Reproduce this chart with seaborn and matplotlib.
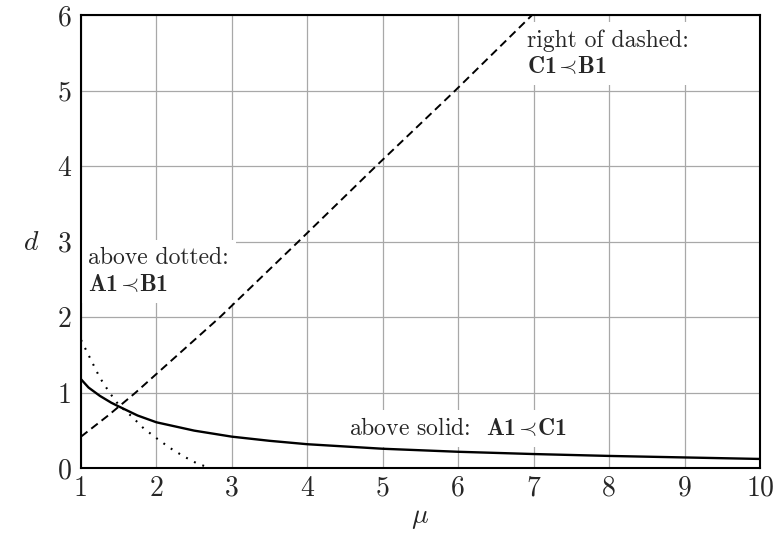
import matplotlib
matplotlib.use("Agg")
import matplotlib.pyplot as plt
import seaborn as sns
import pandas as pd

# Boundary curves in the (mu, d) plane
mu_solid = [1.0, 1.1, 1.25, 1.4, 1.5, 1.75, 2.0, 2.5, 3.0, 3.5, 4.0, 5.0, 6.0, 7.0, 8.0, 9.0, 10.0]
d_solid = [1.18, 1.07, 0.96, 0.87, 0.82, 0.70, 0.61, 0.50, 0.42, 0.365, 0.32, 0.26, 0.22, 0.19, 0.165, 0.145, 0.125]

mu_dashed = [1.0, 1.36, 1.72, 2.84, 3.88, 4.91, 5.96, 6.98]
d_dashed = [0.42, 0.70, 1.0, 2.0, 3.0, 4.0, 5.0, 6.0]

mu_dotted = [1.0, 1.25, 1.38, 1.5, 1.67, 1.83, 2.0, 2.18, 2.36, 2.53, 2.72]
d_dotted = [1.70, 1.20, 1.00, 0.84, 0.69, 0.53, 0.40, 0.27, 0.16, 0.07, 0.0]

x_ticks = [1, 2, 3, 4, 5, 6, 7, 8, 9, 10]
y_ticks = [0, 1, 2, 3, 4, 5, 6]

sns.set_style("white")
plt.rcParams.update({
    "font.family": "serif",
    "font.serif": ["cmr10"],
    "mathtext.fontset": "custom",
    "mathtext.rm": "cmr10",
    "mathtext.it": "cmmi10",
    "mathtext.bf": "cmb10",
    "mathtext.fallback": "cm",
    "axes.formatter.use_mathtext": True,
    "axes.unicode_minus": False,
})

fig = plt.figure(figsize=(7.78, 5.41), dpi=100)
ax = fig.add_axes([81 / 778, 1 - 468.4 / 541, 679 / 778, 453.4 / 541])

solid = pd.DataFrame({"mu": mu_solid, "d": d_solid})
dashed = pd.DataFrame({"mu": mu_dashed, "d": d_dashed})
dotted = pd.DataFrame({"mu": mu_dotted, "d": d_dotted})

sns.lineplot(data=solid, x="mu", y="d", ax=ax, color="black", lw=1.7,
             estimator=None, sort=False, zorder=3)
sns.lineplot(data=dashed, x="mu", y="d", ax=ax, color="black", lw=1.4,
             linestyle=(0, (4.2, 2.5)), estimator=None, sort=False, zorder=3)
sns.lineplot(data=dotted, x="mu", y="d", ax=ax, color="black", lw=1.5,
             linestyle=(0, (0.9, 3.4)), estimator=None, sort=False, zorder=3)

ax.set_xlim(1, 10)
ax.set_ylim(0, 6)
ax.set_xticks(x_ticks)
ax.set_yticks(y_ticks)
ax.set_xticklabels([str(v) for v in x_ticks])
ax.set_yticklabels([str(v) for v in y_ticks])
ax.tick_params(axis="both", length=0, labelsize=20)
ax.tick_params(axis="x", pad=5)
ax.tick_params(axis="y", pad=7)

ax.set_axisbelow(True)
ax.grid(True, color="#a8a8a8", lw=0.9)
for s in ax.spines.values():
    s.set_color("black")
    s.set_linewidth(1.5)
    s.set_zorder(4)

ax.set_xlabel(r"$\mu$", fontsize=20, va="center")
ax.set_ylabel(r"$d$", fontsize=20, rotation=0, va="center", ha="center")
ax.xaxis.set_label_coords(0.5, -0.11)
ax.yaxis.set_label_coords(-0.0736, 0.497)

box = dict(boxstyle="square,pad=0.3", facecolor="white", edgecolor="none")
rel = r"\hspace{-0.08}\prec\!"
ax.text(1.093, 2.93, "above dotted:\n" + r"$\mathbf{A1}" + rel + r"\mathbf{B1}$",
        fontsize=17, ha="left", va="top", linespacing=1.25, bbox=box, zorder=2)
ax.text(6.91, 5.81, "right of dashed:\n" + r"$\mathbf{C1}" + rel + r"\mathbf{B1}$",
        fontsize=17, ha="left", va="top", linespacing=1.25, bbox=box, zorder=2)
ax.text(4.55, 0.44, r"above solid:  $\mathbf{A1}" + rel + r"\mathbf{C1}$",
        fontsize=17, ha="left", va="baseline", bbox=box, zorder=2)

fig.savefig("out.png", dpi=100)
